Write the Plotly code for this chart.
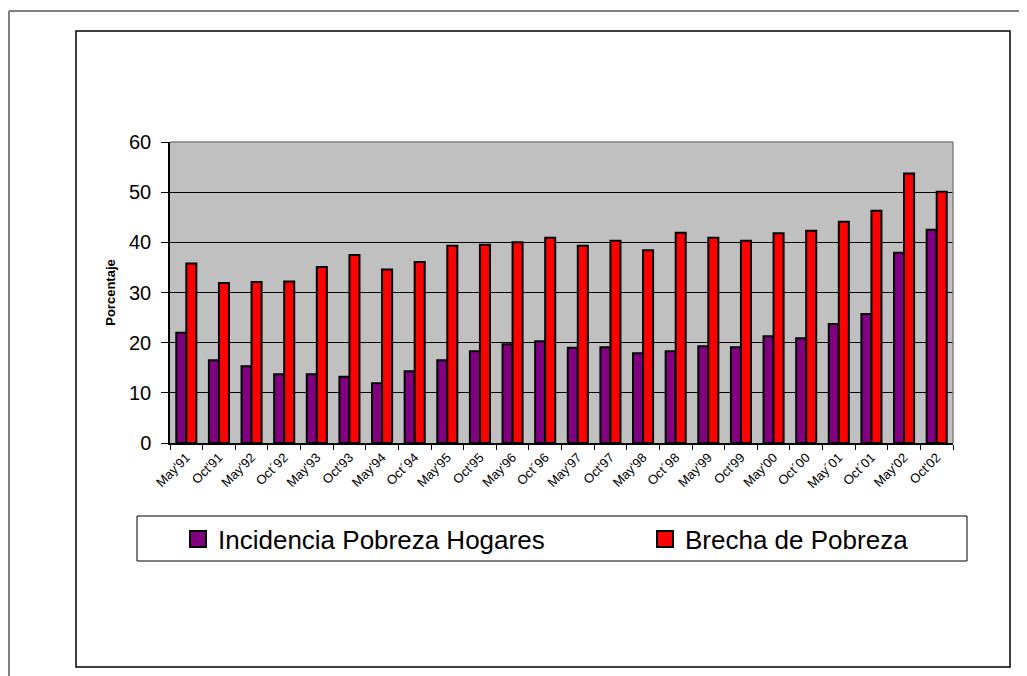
import plotly.graph_objects as go

categories = ["May'91", "Oct'91", "May'92", "Oct\u00b492", "May'93", "Oct'93", "May'94", "Oct\u00b494",
              "May'95", "Oct'95", "May'96", "Oct\u00b496", "May'97", "Oct'97", "May'98", "Oct\u00b498",
              "May'99", "Oct'99", "May'00", "Oct\u00b400", "May\u00b401", "Oct\u00b401", "May'02", "Oct'02"]
incidencia = [22.0, 16.5, 15.3, 13.7, 13.7, 13.2, 11.9, 14.3, 16.5, 18.3, 19.7, 20.3,
              19.0, 19.1, 17.9, 18.3, 19.3, 19.1, 21.3, 20.9, 23.7, 25.7, 37.9, 42.5]
brecha = [35.8, 31.9, 32.1, 32.2, 35.1, 37.5, 34.6, 36.1, 39.3, 39.5, 40.0, 40.9,
          39.3, 40.3, 38.4, 41.9, 40.9, 40.3, 41.8, 42.3, 44.1, 46.3, 53.7, 50.1]
y_ticks = [0, 10, 20, 30, 40, 50, 60]
series_names = ["Incidencia Pobreza Hogares", "Brecha de Pobreza"]
series_colors = ["#800080", "#FF0000"]

# page has an 8px body margin: figure pixel = screen pixel - 8
OFF = 8
W, H = 1027 - OFF, 676 - OFF
PX0, PX1, PY0, PY1 = 170 - OFF, 953 - OFF, 142 - OFF, 443 - OFF


def px(x):
    return (x - OFF - PX0) / (PX1 - PX0)


def py(y):
    return (PY1 - (y - OFF)) / (PY1 - PY0)


FONT = "Liberation Sans, Arial, sans-serif"

fig = go.Figure()
for vals, name, col in zip([incidencia, brecha], series_names, series_colors):
    fig.add_trace(go.Bar(x=categories, y=vals, name=name, showlegend=False,
                         marker=dict(color=col, line=dict(color="black", width=2))))

# legend entries (square swatches like the original legend)
for i, (name, col) in enumerate(zip(series_names, series_colors)):
    fig.add_trace(go.Scatter(x=[None], y=[None], mode="markers", name=name,
                             legend="legend" if i == 0 else "legend2",
                             marker=dict(symbol="square", size=16, color=col,
                                         line=dict(color="black", width=2))))

shapes = [
    dict(type="line", xref="paper", yref="paper", x0=px(9), x1=px(1030), y0=py(11), y1=py(11),
         line=dict(color="#808080", width=2)),
    dict(type="line", xref="paper", yref="paper", x0=px(9), x1=px(9), y0=py(11), y1=py(680),
         line=dict(color="#808080", width=2)),
    dict(type="rect", xref="paper", yref="paper", x0=px(76), x1=px(1010), y0=py(31), y1=py(667),
         line=dict(color="black", width=1.5)),
    dict(type="rect", xref="paper", yref="paper", x0=px(137), x1=px(967), y0=py(516), y1=py(561),
         line=dict(color="black", width=1)),
    dict(type="line", xref="paper", yref="paper", x0=0, x1=1, y0=1, y1=1,
         line=dict(color="#808080", width=1.5)),
    dict(type="line", xref="paper", yref="paper", x0=1, x1=1, y0=0, y1=1,
         line=dict(color="#808080", width=1.5)),
]

leg_common = dict(orientation="h", xanchor="left", yanchor="middle",
                  font=dict(size=26, family=FONT, color="black"),
                  bgcolor="rgba(0,0,0,0)", itemwidth=30)

fig.update_layout(
    width=W, height=H,
    margin=dict(l=PX0, r=W - PX1, t=PY0, b=H - PY1, pad=0),
    paper_bgcolor="white",
    plot_bgcolor="#C0C0C0",
    barmode="group",
    bargap=0.385,
    bargroupgap=0,
    font=dict(family=FONT, color="black"),
    shapes=shapes,
    showlegend=True,
    legend=dict(x=px(178), y=py(539), **leg_common),
    legend2=dict(x=px(645), y=py(539), **leg_common),
    xaxis=dict(type="category", tickangle=-45, tickfont=dict(size=13), showgrid=False,
               showline=True, linecolor="black", linewidth=1.5,
               ticks="outside", tickson="boundaries", ticklen=5, tickcolor="black"),
    yaxis=dict(range=[0, 60], tickvals=y_ticks, tickfont=dict(size=20),
               showgrid=True, gridcolor="black", gridwidth=1, zeroline=False,
               showline=True, linecolor="black", linewidth=1.5,
               ticks="outside", ticklen=7, tickcolor="black", ticklabelstandoff=6,
               title=dict(text="<b>Porcentaje</b>", font=dict(size=13), standoff=10)),
)

fig.write_html("out.html")
